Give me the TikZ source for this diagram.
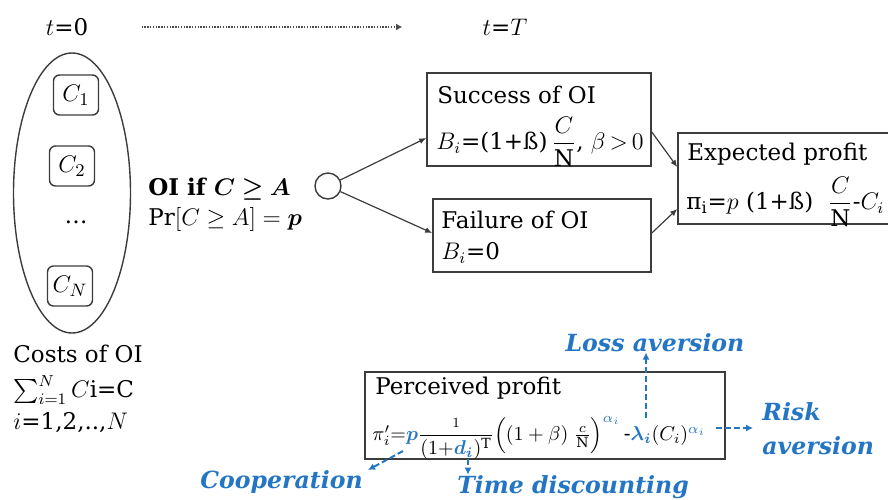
\documentclass[tikz,border=0pt]{standalone}
\usepackage{fontspec}
\setmainfont{DejaVu Serif}
\usepackage{amsmath,bm}
\usetikzlibrary{shapes.geometric,arrows.meta,calc}
\definecolor{lblue}{RGB}{36,118,196}
\definecolor{edgec}{RGB}{60,60,60}
\begin{document}
\begin{tikzpicture}[x=0.5pt,y=-0.5pt,
  txt/.style={inner sep=0pt,font=\fontsize{11.5}{14}\selectfont},
  box/.style={draw=edgec,line width=0.8pt,rectangle,inner sep=0pt},
  cbox/.style={draw=edgec,line width=0.7pt,rounded corners=3pt,minimum width=22.5pt,minimum height=20pt,inner sep=0pt,font=\fontsize{13}{15}\selectfont},
  arr/.style={draw=edgec,line width=0.6pt,-{Latex[length=3.5pt,width=3pt]}},
  blab/.style={inner sep=0pt,text=lblue,font=\bfseries\itshape\fontsize{11.8}{17}\selectfont},
  barr/.style={draw=lblue,line width=1pt,dash pattern=on 3pt off 1.5pt,-{Latex[length=3.5pt,width=3.5pt]}}]
\useasboundingbox (0,0) rectangle (888,499);

% timeline
\node[txt] (t0) at (67,27) {$t$=0};
\node[txt] (tT) at (505,27) {$t$=$T$};
\draw[draw=black!70,line width=1pt,dash pattern=on 0.7pt off 0.7pt,-{Latex[length=3pt,width=3.5pt]},shorten <=26.5pt,shorten >=40pt] (t0.east) -- (tT.west);

% costs ellipse
\node[ellipse,draw=edgec,line width=0.7pt,minimum width=58.5pt,minimum height=140pt,inner sep=0pt] (costs) at (72,193) {};
\node[cbox] (c1) at (76,95) {$C_1$};
\node[cbox] (c2) at (72,166) {$C_2$};
\node[txt] (dots) at (76,222) {\dots};
\node[cbox] (cn) at (70,286) {$C_N$};
\node[txt,anchor=north west,align=left,font=\fontsize{11.5}{16}\selectfont] (costT) at (13,345) {Costs of OI\\[1.5pt]$\textstyle\sum_{i=1}^{N}C$i=C\\$i$=1,2,..,$N$};

% condition
\node[txt,anchor=west,align=left,font=\fontsize{11.5}{15}\selectfont] (cond) at (148,205) {\textbf{OI if $\bm{C\geq A}$}\\$\Pr[C\geq A]=\bm{p}$};
\node[circle,draw=edgec,line width=0.7pt,minimum size=13pt,inner sep=0pt] (dec) at (328,186) {};

% success / failure
\node[box,minimum width=112pt,minimum height=46.5pt] (succ) at (539,119.5) {};
\node[txt,anchor=base west] (succT) at (437,103) {Success of OI};
\node[txt,anchor=west] (succF) at (436,142) {$B_i$=(1+ß)\,$\dfrac{C}{\mathrm{N}}$, $\beta\,{>}\,0$};
\node[box,minimum width=109pt,minimum height=36.5pt] (fail) at (542,235.5) {};
\node[txt,anchor=base west] (failT) at (441,228) {Failure of OI};
\node[txt,anchor=west] (failF) at (441,253) {$B_i$=0};

% expected
\node[box,minimum width=107pt,minimum height=45.5pt] (exp) at (785,178.5) {};
\node[txt,anchor=base west] (expT) at (687,160) {Expected profit};
\node[txt,anchor=west] (expF) at (686,202) {π\textsubscript{i}=$p$~(1+ß)~~$\dfrac{C}{\mathrm{N}}$-$C_i$};

\draw[arr] (dec) -- ($(succ.west)+(0,18.5)$);
\draw[arr] (dec) -- ($(fail.west)+(0,-2.5)$);
\draw[arr] ($(succ.east)+(0,12.5)$) -- ($(exp.west)+(0,-11.5)$);
\draw[arr] ($(fail.east)+(0,-2.5)$) -- ($(exp.west)+(0,30.5)$);

% perceived
\node[box,minimum width=180pt,minimum height=43.5pt] (perc) at (545,415.5) {};
\node[txt,anchor=base west] (percT) at (375,394) {Perceived profit};
\node[txt,anchor=west,font=\fontsize{10}{12}\selectfont] (percF) at (372,438) {$\pi'_{i}{=}{\color{lblue}\bm{p}}\dfrac{\scriptstyle 1}{(1{+}{\color{lblue}\bm{d_i}})^{\mathrm{T}}}\Big((1+\beta)\;\frac{\scriptstyle c}{\scriptstyle\mathrm{N}}\Big)^{\color{lblue}\alpha_i}\,\text{-}{\color{lblue}\bm{\lambda_i}}(C_i)^{\color{lblue}\alpha_i}$};

% blue labels
\node[blab] (loss) at (655,343) {Loss aversion};
\node[blab,anchor=north west,align=left] (risk) at (762,402) {Risk\\aversion};
\node[blab,anchor=base west] (coop) at (200,488) {Cooperation};
\node[blab,anchor=base west] (time) at (457,493) {Time discounting};

\coordinate (lam) at (646,418);
\coordinate (riskS) at (716,428);
\coordinate (pB) at (403,451);
\coordinate (coopTip) at (368,470);
\coordinate (dB) at (468,459);
\draw[barr] (lam) -- (lam |- loss.south);
\draw[barr] (riskS) -- ($(riskS -| risk.west)+(-9,0)$);
\draw[barr] (pB) -- (coopTip);
\draw[barr] (dB) -- (dB |- time.north);
\end{tikzpicture}
\end{document}
